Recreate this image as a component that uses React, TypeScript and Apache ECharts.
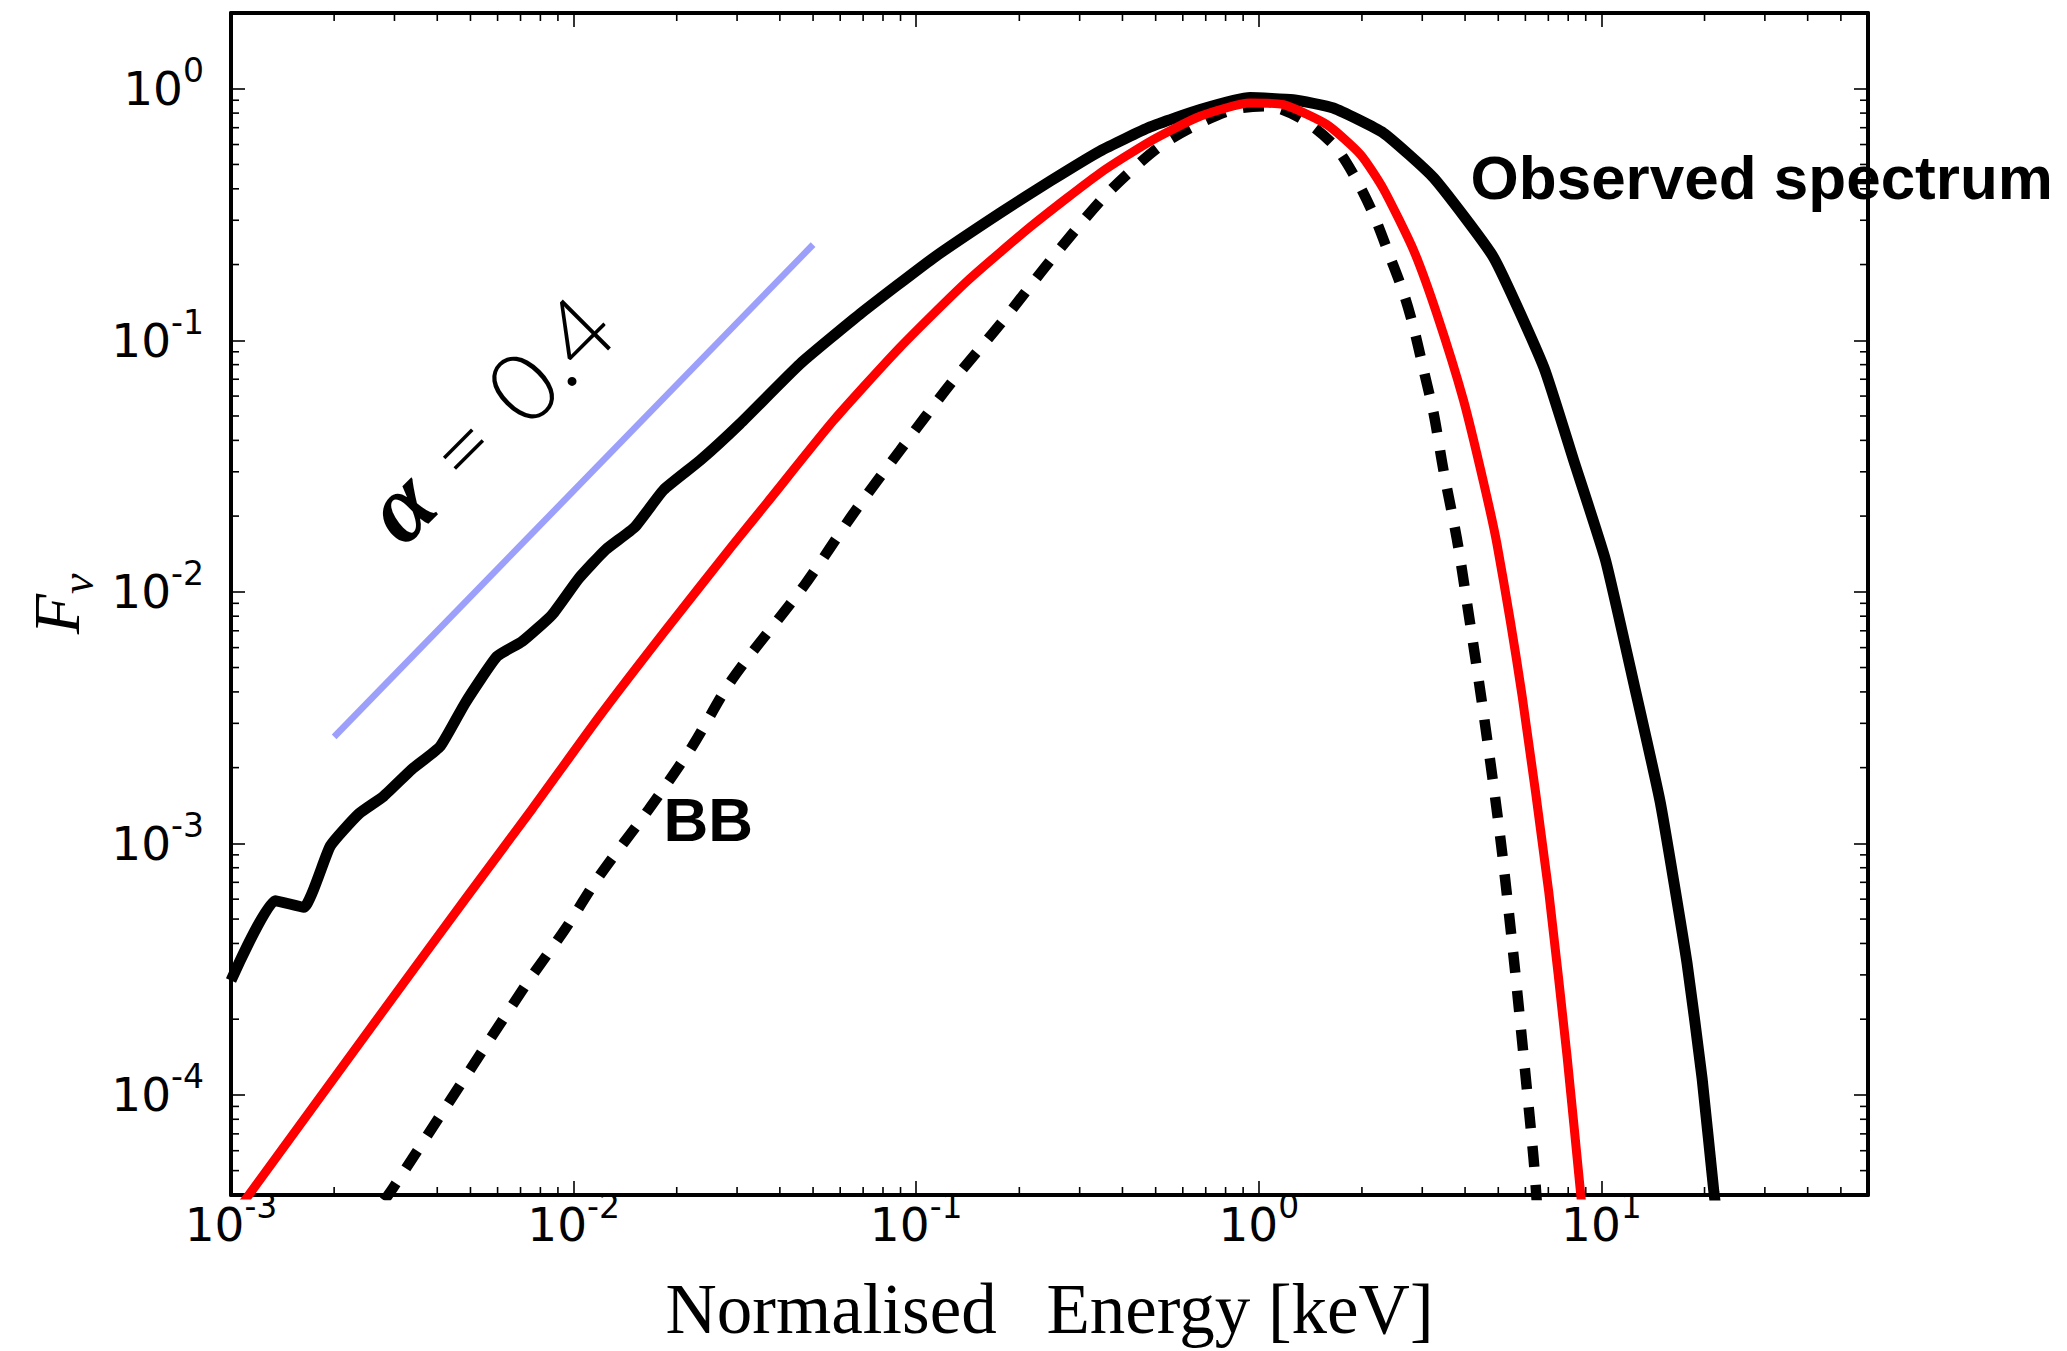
import React, { useEffect, useRef } from 'react';
import * as echarts from 'echarts';

// Axis bounds
const X_MIN = 1e-3;
const X_MAX = 60;
const Y_MIN = 4e-5;
const Y_MAX = 2;

// Tick values
const X_MAJOR = [0.001, 0.01, 0.1, 1, 10];
const Y_MAJOR = [0.0001, 0.001, 0.01, 0.1, 1];
const X_MINOR = [
  0.002, 0.003, 0.004, 0.005, 0.006, 0.007, 0.008, 0.009,
  0.02, 0.03, 0.04, 0.05, 0.06, 0.07, 0.08, 0.09,
  0.2, 0.3, 0.4, 0.5, 0.6, 0.7, 0.8, 0.9,
  2, 3, 4, 5, 6, 7, 8, 9,
  20, 30, 40, 50,
];
const Y_MINOR = [
  5e-5, 6e-5, 7e-5, 8e-5, 9e-5,
  2e-4, 3e-4, 4e-4, 5e-4, 6e-4, 7e-4, 8e-4, 9e-4,
  2e-3, 3e-3, 4e-3, 5e-3, 6e-3, 7e-3, 8e-3, 9e-3,
  0.02, 0.03, 0.04, 0.05, 0.06, 0.07, 0.08, 0.09,
  0.2, 0.3, 0.4, 0.5, 0.6, 0.7, 0.8, 0.9,
];

// Observed spectrum (black solid)
const obsE = [0.001, 0.001345, 0.00163, 0.00195, 0.00236, 0.00279, 0.00337, 0.00408, 0.00483, 0.00598, 0.00708, 0.00865, 0.01035, 0.0124, 0.0151, 0.0183, 0.0234, 0.0306, 0.0458, 0.0685, 0.112, 0.176, 0.246, 0.344, 0.482, 0.674, 0.944, 1.26, 1.65, 2.31, 3.24, 4.85, 6.79, 8.3, 10.28, 12.42, 14.86, 17.78, 19.68, 21.3, 21.8];
const obsF = [2.85e-4, 5.92e-4, 5.57e-4, 9.77e-4, 1.31e-3, 1.54e-3, 1.97e-3, 2.43e-3, 3.62e-3, 5.54e-3, 6.35e-3, 8.1e-3, 1.13e-2, 1.47e-2, 1.81e-2, 2.54e-2, 3.33e-2, 4.66e-2, 8.05e-2, 0.127, 0.212, 0.321, 0.429, 0.565, 0.705, 0.826, 0.922, 0.904, 0.838, 0.667, 0.442, 0.213, 0.0781, 0.0333, 0.01337, 4.35e-3, 1.45e-3, 3.34e-4, 1.16e-4, 4.1e-5, 3.2e-5];

// Model spectrum (red solid)
const modelE = [0.001, 0.00295, 0.00483, 0.00757, 0.0119, 0.0185, 0.029, 0.0366, 0.0574, 0.0897, 0.141, 0.22, 0.344, 0.482, 0.674, 0.944, 1.18, 1.58, 1.98, 2.31, 2.83, 3.31, 3.96, 4.53, 4.96, 5.87, 7.02, 7.94, 8.69, 8.85];
const modelF = [3.2e-5, 2.41e-4, 6.01e-4, 1.37e-3, 3.2e-3, 7.0e-3, 1.52e-2, 2.25e-2, 4.8e-2, 9.37e-2, 0.172, 0.289, 0.462, 0.618, 0.777, 0.877, 0.864, 0.72, 0.548, 0.4, 0.228, 0.127, 0.0576, 0.0272, 0.0154, 3.85e-3, 6.41e-4, 1.42e-4, 4.1e-5, 3.2e-5];

// Black body (black dashed)
const bbE = [0.0028, 0.00297, 0.00723, 0.00946, 0.0119, 0.0166, 0.0222, 0.029, 0.0469, 0.0656, 0.0897, 0.126, 0.176, 0.246, 0.344, 0.412, 0.515, 0.646, 0.843, 1.06, 1.32, 1.65, 1.89, 2.16, 2.42, 2.65, 2.83, 3.03, 3.24, 3.46, 3.79, 4.05, 4.53, 5.07, 5.55, 5.93, 6.34, 6.5];
const bbF = [3.8e-5, 4.26e-5, 2.72e-4, 4.57e-4, 7.43e-4, 1.37e-3, 2.43e-3, 4.48e-3, 1.05e-2, 2.05e-2, 3.65e-2, 6.71e-2, 0.116, 0.207, 0.357, 0.456, 0.591, 0.709, 0.826, 0.851, 0.765, 0.6, 0.456, 0.317, 0.213, 0.153, 0.1125, 0.0758, 0.051, 0.0304, 0.0161, 9.06e-3, 3.27e-3, 1.05e-3, 3.48e-4, 1.42e-4, 5.57e-5, 3.5e-5];

// Power-law guide (blue)
const slopeE = [0.002, 0.05];
const slopeF = [0.00265, 0.24];

// Annotation anchors (data coordinates)
const OBS_LABEL_AT = [4.15, 0.443];
const BB_LABEL_AT = [0.0183, 1.24e-3];
const ALPHA_LABEL_AT = [5.63e-3, 0.0493];

const zip = (a: number[], b: number[]) => a.map((v, i) => [v, b[i]]);

const MAJOR_LEN = 14;
const MINOR_LEN = 8;
const TICK_W = 1.6;
const FRAME_W = 4;

const tickRich = {
  b: { fontFamily: 'DejaVu Sans', fontSize: 47, lineHeight: 47, color: '#000' },
  s: { fontFamily: 'DejaVu Sans', fontSize: 33, lineHeight: 33, color: '#000', padding: [0, 0, 36, 0] },
};
const fmt = (v: number) => `{b|10}{s|${Math.round(Math.log10(v))}}`;

export default function App() {
  const ref = useRef<HTMLDivElement>(null);

  useEffect(() => {
    const chart = echarts.init(ref.current as HTMLDivElement, null, { renderer: 'svg' });
    const tickStyle = { stroke: '#000', lineWidth: TICK_W };

    const renderXMinor = (_p: any, api: any) => {
      const v = api.value(0);
      const b = api.coord([v, Y_MIN]);
      const t = api.coord([v, Y_MAX]);
      return {
        type: 'group',
        children: [
          { type: 'line', shape: { x1: b[0], y1: b[1], x2: b[0], y2: b[1] - MINOR_LEN }, style: tickStyle },
          { type: 'line', shape: { x1: t[0], y1: t[1], x2: t[0], y2: t[1] + MINOR_LEN }, style: tickStyle },
        ],
      };
    };
    const renderYMinor = (_p: any, api: any) => {
      const v = api.value(1);
      const l = api.coord([X_MIN, v]);
      const r = api.coord([X_MAX, v]);
      return {
        type: 'group',
        children: [
          { type: 'line', shape: { x1: l[0], y1: l[1], x2: l[0] + MINOR_LEN, y2: l[1] }, style: tickStyle },
          { type: 'line', shape: { x1: r[0], y1: r[1], x2: r[0] - MINOR_LEN, y2: r[1] }, style: tickStyle },
        ],
      };
    };

    const axisLine = { show: true, onZero: false, lineStyle: { color: '#000', width: FRAME_W } };

    const option: any = {
      animation: false,
      backgroundColor: '#fff',
      textStyle: { fontFamily: 'DejaVu Sans' },
      grid: { left: 231, right: 199, top: 13, bottom: 156, containLabel: false, outerBoundsMode: 'none' },
      xAxis: [
        {
          type: 'log', logBase: 10, position: 'bottom', min: X_MIN, max: X_MAX,
          name: 'Normalised\u2002\u2009Energy [keV]', nameLocation: 'middle', nameGap: 78,
          nameTextStyle: { fontFamily: 'Liberation Serif', fontSize: 71, color: '#000' },
          axisLine,
          axisTick: { show: true, inside: true, length: MAJOR_LEN, customValues: X_MAJOR, lineStyle: { color: '#000', width: TICK_W } },
          axisLabel: { show: true, margin: 6, customValues: X_MAJOR, formatter: fmt, rich: tickRich },
          splitLine: { show: false }, minorTick: { show: false }, minorSplitLine: { show: false },
        },
        {
          type: 'log', logBase: 10, position: 'top', min: X_MIN, max: X_MAX,
          axisLine,
          axisTick: { show: true, inside: true, length: MAJOR_LEN, customValues: X_MAJOR, lineStyle: { color: '#000', width: TICK_W } },
          axisLabel: { show: false },
          splitLine: { show: false },
        },
      ],
      yAxis: [
        {
          type: 'log', logBase: 10, position: 'left', min: Y_MIN, max: Y_MAX,
          name: '{f|F}{s|ν}', nameLocation: 'middle', nameGap: 140, nameRotate: 90,
          nameTextStyle: {
            color: '#000',
            rich: {
              f: { fontFamily: 'Liberation Serif', fontStyle: 'italic', fontSize: 66, lineHeight: 66, color: '#000' },
              s: { fontFamily: 'Liberation Serif', fontStyle: 'italic', fontSize: 46, lineHeight: 46, color: '#000', padding: [42, 0, 0, 0] },
            },
          },
          axisLine,
          axisTick: { show: true, inside: true, length: MAJOR_LEN, customValues: Y_MAJOR, lineStyle: { color: '#000', width: TICK_W } },
          axisLabel: { show: true, margin: 27, customValues: Y_MAJOR, formatter: fmt, rich: tickRich },
          splitLine: { show: false }, minorTick: { show: false }, minorSplitLine: { show: false },
        },
        {
          type: 'log', logBase: 10, position: 'right', min: Y_MIN, max: Y_MAX,
          axisLine,
          axisTick: { show: true, inside: true, length: MAJOR_LEN, customValues: Y_MAJOR, lineStyle: { color: '#000', width: TICK_W } },
          axisLabel: { show: false },
          splitLine: { show: false },
        },
      ],
      series: [
        {
          name: 'α = 0.4 guide', type: 'line', xAxisIndex: 0, yAxisIndex: 0, data: zip(slopeE, slopeF),
          symbol: 'none', silent: true, z: 2, lineStyle: { color: '#9da0fa', width: 6.5 },
        },
        {
          name: 'Observed spectrum', type: 'line', xAxisIndex: 0, yAxisIndex: 0, data: zip(obsE, obsF),
          symbol: 'none', silent: true, z: 3, smooth: 0.15, lineStyle: { color: '#000', width: 11, join: 'round' },
        },
        {
          name: 'BB', type: 'line', xAxisIndex: 0, yAxisIndex: 0, data: zip(bbE, bbF),
          symbol: 'none', silent: true, z: 4, smooth: 0.3, lineStyle: { color: '#000', width: 10.5, type: [21, 18], cap: 'butt' },
        },
        {
          name: 'Model', type: 'line', xAxisIndex: 0, yAxisIndex: 0, data: zip(modelE, modelF),
          symbol: 'none', silent: true, z: 5, smooth: 0.2, lineStyle: { color: '#ff0000', width: 9, join: 'round' },
        },
        {
          name: 'x minor ticks', type: 'custom', xAxisIndex: 0, yAxisIndex: 0, silent: true, z: 6,
          data: X_MINOR.map((v) => [v, 1]), renderItem: renderXMinor,
        },
        {
          name: 'y minor ticks', type: 'custom', xAxisIndex: 0, yAxisIndex: 0, silent: true, z: 6,
          data: Y_MINOR.map((v) => [1, v]), renderItem: renderYMinor,
        },
      ],
    };

    chart.setOption(option);

    const px = (p: number[]) => chart.convertToPixel({ gridIndex: 0 } as any, p) as number[];
    const o = px(OBS_LABEL_AT);
    const b = px(BB_LABEL_AT);
    const a = px(ALPHA_LABEL_AT);

    chart.setOption({
      graphic: [
        {
          type: 'text', x: o[0], y: o[1], z: 100, silent: true,
          style: { text: 'Observed spectrum', fontFamily: 'Liberation Sans', fontWeight: 'bold', fontSize: 62, fill: '#000', align: 'left', verticalAlign: 'middle' },
        },
        {
          type: 'text', x: b[0], y: b[1], z: 100, silent: true,
          style: { text: 'BB', fontFamily: 'Liberation Sans', fontWeight: 'bold', fontSize: 62, fill: '#000', align: 'left', verticalAlign: 'middle' },
        },
        {
          type: 'text', x: a[0], y: a[1], rotation: Math.PI / 4, z: 100, silent: true,
          style: {
            text: '{a|α}{b|=}{c|0.4}', align: 'center', verticalAlign: 'middle', fill: '#000',
            rich: {
              a: { fontFamily: 'Liberation Serif', fontStyle: 'italic', fontWeight: 'bold', fontSize: 98, lineHeight: 98, fill: '#000' },
              b: { fontFamily: 'Lato', fontWeight: 300, fontSize: 96, lineHeight: 98, fill: '#000', padding: [0, 30, 0, 30] },
              c: { fontFamily: 'Lato', fontWeight: 300, fontSize: 96, lineHeight: 98, fill: '#000' },
            },
          },
        },
      ],
    });

    return () => chart.dispose();
  }, []);

  return (
    <div
      ref={ref}
      style={{ position: 'absolute', left: 0, top: 0, width: 2067, height: 1351, background: '#fff' }}
    />
  );
}
